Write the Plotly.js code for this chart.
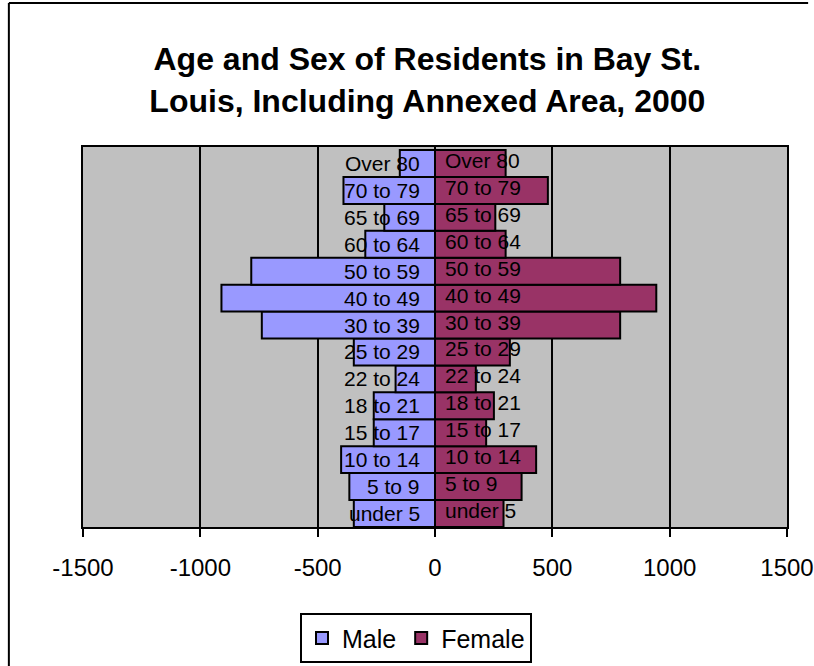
<!DOCTYPE html>
<html>
<head>
<meta charset="utf-8">
<script src="https://cdn.plot.ly/plotly-3.0.1.min.js"></script>
<style>
html, body { margin: 0; padding: 0; background: #ffffff; overflow: hidden; }
#chart { width: 814px; height: 666px; }
</style>
</head>
<body>
<div id="chart"></div>
<script>
// Age groups, bottom to top
var ageGroups = ["under 5", "5 to 9", "10 to 14", "15 to 17", "18 to 21", "22 to 24", "25 to 29",
                 "30 to 39", "40 to 49", "50 to 59", "60 to 64", "65 to 69", "70 to 79", "Over 80"];
// Counts
var maleCounts   = [346, 365, 400, 261, 261, 168, 346, 738, 910, 783, 297, 216, 390, 150];
var femaleCounts = [292, 369, 431, 218, 251, 174, 319, 789, 943, 789, 301, 257, 481, 301];
var xTickValues = [-1500, -1000, -500, 0, 500, 1000, 1500];
var xTickLabels = ["-1500", "-1000", "-500", "0", "500", "1000", "1500"];

var FONT = "Liberation Sans, Arial, sans-serif";

var male = {
  type: "bar", orientation: "h", name: "Male",
  y: ageGroups, x: maleCounts.map(function (v) { return -v; }),
  marker: { color: "#9999FF", line: { color: "#000000", width: 2 } },
  hoverinfo: "none"
};
var female = {
  type: "bar", orientation: "h", name: "Female",
  y: ageGroups, x: femaleCounts,
  marker: { color: "#993366", line: { color: "#000000", width: 2 } },
  hoverinfo: "none"
};

var annotations = [];
ageGroups.forEach(function (g) {
  annotations.push({ x: 0, y: g, xref: "x", yref: "y", text: g, showarrow: false,
    xanchor: "right", xshift: -13, yshift: 0,
    font: { family: FONT, size: 21, color: "#000000" } });
  annotations.push({ x: 0, y: g, xref: "x", yref: "y", text: g, showarrow: false,
    xanchor: "left", xshift: 8, yshift: 3,
    font: { family: FONT, size: 21, color: "#000000" } });
});

var layout = {
  width: 814, height: 666,
  margin: { l: 83, r: 27, t: 147, b: 139, autoexpand: false },
  paper_bgcolor: "#ffffff",
  plot_bgcolor: "#C0C0C0",
  barmode: "overlay",
  bargap: 0,
  showlegend: true,
  title: {
    text: "<b>Age and Sex of Residents in Bay St.<br>Louis, Including Annexed Area, 2000</b>",
    font: { family: FONT, size: 32, color: "#000000" },
    xref: "container", x: 0.525, xanchor: "center",
    yref: "container", y: 0.895, yanchor: "top"
  },
  xaxis: {
    range: [-1500, 1500],
    tickvals: xTickValues, ticktext: xTickLabels,
    ticks: "outside", ticklen: 8, tickwidth: 2, tickcolor: "#000000",
    ticklabelstandoff: 10,
    automargin: false,
    showgrid: true, gridcolor: "#000000", gridwidth: 2,
    zeroline: false,
    showline: true, linecolor: "#000000", linewidth: 2, mirror: true,
    tickfont: { family: FONT, size: 24, color: "#000000" },
    fixedrange: true
  },
  yaxis: {
    type: "category",
    categoryorder: "array", categoryarray: ageGroups,
    showticklabels: false, ticks: "",
    automargin: false,
    showgrid: false, zeroline: false,
    showline: true, linecolor: "#000000", linewidth: 2, mirror: true,
    fixedrange: true
  },
  legend: {
    orientation: "h",
    x: 0.473, xanchor: "center", xref: "paper",
    y: -0.227, yanchor: "top", yref: "paper",
    bordercolor: "#000000", borderwidth: 2, bgcolor: "#ffffff",
    font: { family: FONT, size: 25, color: "#000000" },
    traceorder: "normal"
  },
  annotations: annotations,
  shapes: [
    { type: "line", xref: "paper", yref: "paper",
      x0: -0.1053, x1: -0.1053, y0: -0.40, y1: 1.379,
      line: { color: "#000000", width: 2 }, layer: "above" },
    { type: "line", xref: "paper", yref: "paper",
      x0: -0.1053, x1: 1.03, y0: 1.379, y1: 1.379,
      line: { color: "#000000", width: 2 }, layer: "above" }
  ]
};

Plotly.newPlot("chart", [male, female], layout, { displayModeBar: false, staticPlot: true });
</script>
</body>
</html>
